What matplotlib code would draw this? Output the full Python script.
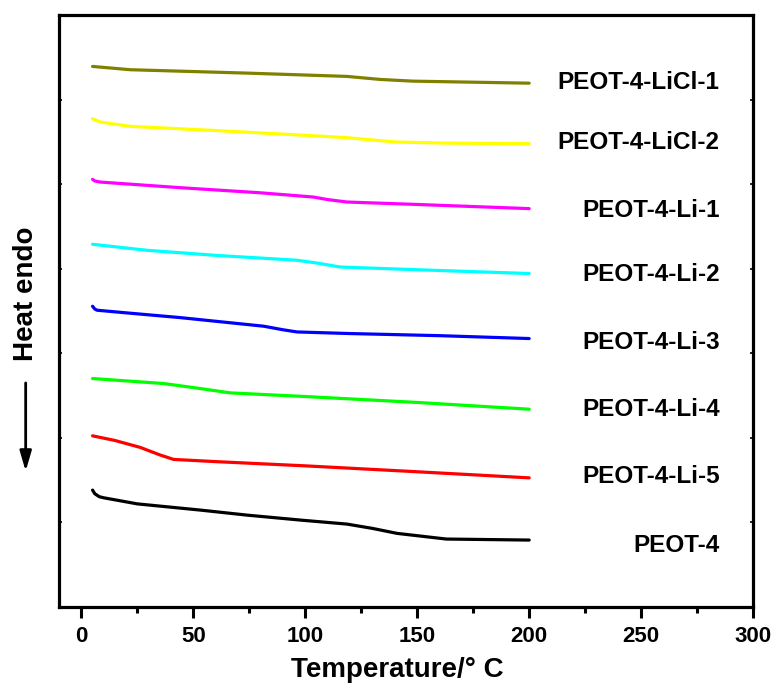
import matplotlib
matplotlib.use("Agg")
import matplotlib.pyplot as plt
from matplotlib.ticker import MultipleLocator

plt.rcParams['font.family'] = ['Liberation Sans', 'DejaVu Sans']
plt.rcParams['font.weight'] = 'bold'

# ---- data (temperature in deg C, heat flow in stacked arbitrary units) ----
t_peot4 = [5, 6, 8, 10, 25, 53, 74, 98, 118.6, 130, 141, 163, 200]
y_peot4 = [1.383, 1.34, 1.305, 1.292, 1.22, 1.147, 1.087, 1.028, 0.981, 0.93, 0.871, 0.804, 0.792]

t_li5 = [5, 15, 26.3, 35, 41.2, 60, 100, 150, 200]
y_li5 = [2.025, 1.97, 1.888, 1.80, 1.746, 1.72, 1.67, 1.60, 1.528]

t_li4 = [5, 20, 36.7, 51.6, 66.5, 100, 150, 200]
y_li4 = [2.703, 2.675, 2.644, 2.59, 2.533, 2.49, 2.42, 2.340]

t_li3 = [5, 6, 7, 20, 44, 81.4, 90, 96.3, 120, 160, 200]
y_li3 = [3.558, 3.525, 3.511, 3.48, 3.424, 3.322, 3.28, 3.254, 3.235, 3.21, 3.176]

t_li2 = [5, 29.3, 60, 96.3, 105, 115.6, 150, 200]
y_li2 = [4.291, 4.220, 4.16, 4.102, 4.07, 4.022, 3.99, 3.945]

t_li1 = [5, 6, 8.5, 44, 80, 103.6, 110, 118.6, 148, 200]
y_li1 = [5.059, 5.04, 5.027, 4.961, 4.90, 4.850, 4.82, 4.791, 4.764, 4.713]

t_licl2 = [5, 8.5, 22, 59, 100, 118.7, 130, 141, 163, 200]
y_licl2 = [5.777, 5.737, 5.686, 5.638, 5.58, 5.552, 5.525, 5.500, 5.488, 5.481]

t_licl1 = [5, 21.9, 74, 118.6, 133.5, 148, 200]
y_licl1 = [6.395, 6.356, 6.316, 6.277, 6.241, 6.221, 6.197]

series = [
    ("PEOT-4-LiCl-1", t_licl1, y_licl1, "#808000"),
    ("PEOT-4-LiCl-2", t_licl2, y_licl2, "#FFFF00"),
    ("PEOT-4-Li-1", t_li1, y_li1, "#FF00FF"),
    ("PEOT-4-Li-2", t_li2, y_li2, "#00FFFF"),
    ("PEOT-4-Li-3", t_li3, y_li3, "#0000FF"),
    ("PEOT-4-Li-4", t_li4, y_li4, "#00FF00"),
    ("PEOT-4-Li-5", t_li5, y_li5, "#FF0000"),
    ("PEOT-4", t_peot4, y_peot4, "#000000"),
]
label_y = [6.2, 5.49, 4.69, 3.93, 3.13, 2.34, 1.54, 0.73]
x_ticks = [0, 50, 100, 150, 200, 250, 300]

fig = plt.figure(figsize=(7.78, 6.95), dpi=100)
ax = fig.add_axes([0.0758, 0.1266, 0.8922, 0.8514])

for (name, t, y, c), ly in zip(series, label_y):
    ax.plot(t, y, color=c, lw=2.3, solid_capstyle='round', solid_joinstyle='round')
    ax.text(285, ly, name, ha='right', va='center', fontsize=17.5, fontweight='bold')

ax.set_xlim(-10, 300)
ax.set_ylim(0, 7)
ax.set_xticks(x_ticks)
ax.xaxis.set_minor_locator(MultipleLocator(25))
ax.set_yticks([1, 2, 3, 4, 5, 6])
ax.set_yticklabels([])
ax.tick_params(axis='x', which='major', direction='out', length=8, width=2.2,
               labelsize=16, pad=6)
ax.tick_params(axis='x', which='minor', direction='out', length=4.5, width=2.2)
ax.tick_params(axis='y', which='major', direction='in', length=2.5, width=1.2,
               left=True, right=True)
for lab in ax.get_xticklabels():
    lab.set_fontweight('bold')
for s in ax.spines.values():
    s.set_linewidth(2.3)

ax.set_xlabel("Temperature/° C", fontsize=20, fontweight='bold')
ax.xaxis.set_label_coords(0.488, -0.085)

fig.text(0.033, 0.578, "Heat endo", rotation=90, ha='center', va='center',
         fontsize=20, fontweight='bold')
ax.annotate("", xy=(0.033, 0.322), xytext=(0.033, 0.449),
            xycoords='figure fraction', textcoords='figure fraction',
            arrowprops=dict(arrowstyle='-|>,head_length=1.2,head_width=0.35',
                            color='black', lw=2, shrinkA=0, shrinkB=0))

fig.savefig("out.png", dpi=100)
